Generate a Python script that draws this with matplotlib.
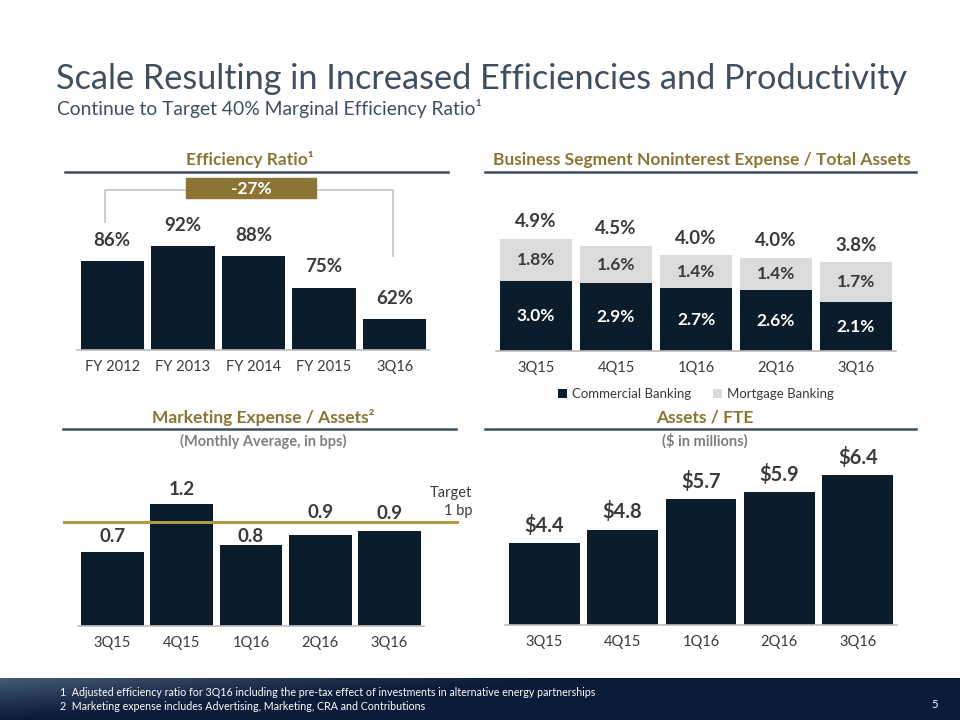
import numpy as np
import matplotlib
matplotlib.use("Agg")
import matplotlib.pyplot as plt
from matplotlib.patches import Rectangle

plt.rcParams['font.family'] = ['Lato', 'DejaVu Sans']

# ---------------- data ----------------
eff_categories = ["FY 2012", "FY 2013", "FY 2014", "FY 2015", "3Q16"]
eff_values = [86, 92, 88, 75, 62]
eff_change_label = "-27%"

seg_categories = ["3Q15", "4Q15", "1Q16", "2Q16", "3Q16"]
seg_commercial = [3.0, 2.9, 2.7, 2.6, 2.1]
seg_mortgage = [1.8, 1.6, 1.4, 1.4, 1.7]
seg_total_labels = ["4.9%", "4.5%", "4.0%", "4.0%", "3.8%"]
seg_series_names = ["Commercial Banking", "Mortgage Banking"]

mkt_categories = ["3Q15", "4Q15", "1Q16", "2Q16", "3Q16"]
mkt_values = [0.71, 1.17, 0.78, 0.875, 0.91]
mkt_labels = ["0.7", "1.2", "0.8", "0.9", "0.9"]
mkt_target = 1.0

fte_categories = ["3Q15", "4Q15", "1Q16", "2Q16", "3Q16"]
fte_values = [4.4, 4.8, 5.7, 5.9, 6.4]

footnotes = [
    "1  Adjusted efficiency ratio for 3Q16 including the pre-tax effect of investments in alternative energy partnerships",
    "2  Marketing expense includes Advertising, Marketing, CRA and Contributions",
]

# ---------------- style ----------------
NAVY = "#0B1C2B"
LIGHT = "#DADBDD"
GOLD = "#8C7534"
SLATE = "#3E4F5E"
TXT = "#3A3A3A"
GRAY = "#7F7F7F"
MKT_LABEL_OFFSETS = [11.5, 11, 6, 16, 13]  # points above bar top (avoid target line)

W, H = 960, 720
fig = plt.figure(figsize=(9.6, 7.2), dpi=100)


def fx(x):
    return x / W


def fy(y):
    return 1 - y / H


def add_ax(left, top, right, bottom):
    ax = fig.add_axes([fx(left), fy(bottom), (right - left) / W, (bottom - top) / H])
    for s in ["top", "right", "left"]:
        ax.spines[s].set_visible(False)
    ax.spines["bottom"].set_color("#BFBFBF")
    ax.spines["bottom"].set_linewidth(1.2)
    ax.set_yticks([])
    ax.tick_params(axis="x", length=0, labelsize=10.5, labelcolor=TXT, pad=7)
    ax.patch.set_alpha(0)
    return ax


def header(xc, y, x0, x1, text, sub=None):
    fig.text(fx(xc), fy(y), text, ha="center", va="center", color=GOLD,
             fontsize=12.5, fontweight="bold")
    fig.add_artist(plt.Line2D([fx(x0), fx(x1)], [fy(y + 12), fy(y + 12)],
                              color=SLATE, lw=1.8))
    if sub:
        fig.text(fx(xc), fy(y + 24), sub, ha="center", va="center", color=GRAY,
                 fontsize=10.5, fontweight="bold")


# ---------------- title ----------------
fig.text(fx(56), fy(79), "Scale Resulting in Increased Efficiencies and Productivity",
         ha="left", va="center", color="#3D4F60", fontsize=24.7)
fig.text(fx(57), fy(108), "Continue to Target 40% Marginal Efficiency Ratio\u00b9",
         ha="left", va="center", color="#3D4F60", fontsize=13.9)

# ---------------- Efficiency ratio ----------------
header(250, 160, 65, 448, "Efficiency Ratio\u00b9")
ax1 = add_ax(77, 200, 430, 350)
x = np.arange(len(eff_categories))
scale1 = 2.42  # px per %
ymin1 = 49.2
ax1.set_xlim(-0.5, len(x) - 0.5)
ax1.bar(x, eff_values, width=0.9, color=NAVY, bottom=0)
ax1.set_ylim(ymin1, ymin1 + 150 / scale1)
ax1.set_xticks(x, eff_categories)
for xi, v in zip(x, eff_values):
    ax1.annotate(f"{v}%", (xi, v), xytext=(0, 15), textcoords="offset points",
                 ha="center", va="center", fontsize=13.5, fontweight="bold", color=TXT)

# bracket and change box
bx = [fx(105), fx(105), fx(393), fx(393)]
by = [fy(222), fy(190), fy(190), fy(256)]
fig.add_artist(plt.Line2D(bx, by, color="#C8C8C8", lw=1.3))
fig.add_artist(Rectangle((fx(186), fy(198)), fx(316) - fx(186), fy(178) - fy(198),
                         transform=fig.transFigure, color=GOLD, zorder=3))
fig.text(fx(251), fy(188.5), eff_change_label, ha="center", va="center",
         color="white", fontsize=12.5, fontweight="bold", zorder=4)

# ---------------- Business segment ----------------
header(702, 160, 485, 916, "Business Segment Noninterest Expense / Total Assets")
ax2 = add_ax(496, 200, 896, 351)
x2 = np.arange(len(seg_categories))
scale2 = 23.3
ax2.set_xlim(-0.5, len(x2) - 0.5)
b1 = ax2.bar(x2, seg_commercial, width=0.9, color=NAVY, label=seg_series_names[0])
b2 = ax2.bar(x2, seg_mortgage, width=0.9, bottom=seg_commercial, color=LIGHT,
             label=seg_series_names[1])
ax2.set_ylim(0, 151 / scale2)
ax2.set_xticks(x2, seg_categories)
for xi, c, m, t in zip(x2, seg_commercial, seg_mortgage, seg_total_labels):
    ax2.text(xi, c / 2, f"{c:.1f}%", ha="center", va="center", color="white",
             fontsize=12.5, fontweight="bold")
    ax2.text(xi, c + m / 2, f"{m:.1f}%", ha="center", va="center", color=TXT,
             fontsize=12.5, fontweight="bold")
    ax2.annotate(t, (xi, c + m), xytext=(0, 12.5), textcoords="offset points",
                 ha="center", va="center", fontsize=13.5, fontweight="bold", color=TXT)
ax2.legend(handles=[b1, b2], loc="center", bbox_to_anchor=(0.5, (351 - 394) / 151),
           ncol=2, frameon=False, fontsize=9.5, handlelength=0.7, handleheight=0.7,
           handletextpad=0.4, columnspacing=1.6, labelcolor=TXT)

# ---------------- Marketing ----------------
header(263, 417, 63, 456, "Marketing Expense / Assets\u00b2", "(Monthly Average, in bps)")
ax3 = add_ax(78, 470, 424, 626)
x3 = np.arange(len(mkt_categories))
scale3 = 104.0
ax3.set_xlim(-0.5, len(x3) - 0.5)
ax3.bar(x3, mkt_values, width=0.91, color=NAVY)
ax3.set_ylim(0, 156 / scale3)
ax3.set_xticks(x3, mkt_categories)
ax3.plot([-0.5 - 14 / 69.2, 4.5 + 33 / 69.2], [mkt_target, mkt_target], color="#B19A45",
         lw=2.2, clip_on=False, zorder=3)
for xi, v, lab, off in zip(x3, mkt_values, mkt_labels, MKT_LABEL_OFFSETS):
    ax3.annotate(lab, (xi, v), xytext=(0, off), textcoords="offset points",
                 ha="center", va="center", fontsize=13.5, fontweight="bold", color=TXT,
                 zorder=5)
fig.text(fx(472), fy(502), "Target\n1 bp", ha="right", va="center", ma="right",
         color=TXT, fontsize=10.5, linespacing=1.35)

# ---------------- Assets / FTE ----------------
header(705, 417, 485, 916, "Assets / FTE", "($ in millions)")
ax4 = add_ax(505, 455, 897, 625)
x4 = np.arange(len(fte_categories))
scale4 = 34.0
ymin4 = 2.0
ax4.set_xlim(-0.5, len(x4) - 0.5)
ax4.bar(x4, fte_values, width=0.905, color=NAVY)
ax4.set_ylim(ymin4, ymin4 + 170 / scale4)
ax4.set_xticks(x4, fte_categories)
for xi, v in zip(x4, fte_values):
    ax4.annotate(f"${v:.1f}", (xi, v), xytext=(0, 13), textcoords="offset points",
                 ha="center", va="center", fontsize=14.5, fontweight="bold", color=TXT)

# ---------------- footer ----------------
fax = fig.add_axes([0, 0, 1, 42 / H])
fax.set_axis_off()
grad = np.linspace(0, 1, 256)
gx, gy = np.meshgrid(grad, np.linspace(0, 1, 32))
t = np.clip(gy * 0.9 - gx * 1.6 + 0.05, 0, 1) ** 1.2
c0 = np.array([0x0B, 0x1C, 0x38]) / 255
c1 = np.array([0x4A, 0x5E, 0x7A]) / 255
img = c0[None, None, :] * (1 - t[..., None]) + c1[None, None, :] * t[..., None]
fax.imshow(img, aspect="auto", extent=[0, 1, 0, 1], origin="lower")
fax.set_xlim(0, 1)
fax.set_ylim(0, 1)
fig.text(fx(60), fy(692), footnotes[0], ha="left", va="center", color="white", fontsize=7.7)
fig.text(fx(60), fy(707), footnotes[1], ha="left", va="center", color="white", fontsize=7.7)
fig.text(fx(935), fy(704), "5", ha="center", va="center", color="white", fontsize=8)

fig.savefig("out.png", dpi=100, facecolor="white")
